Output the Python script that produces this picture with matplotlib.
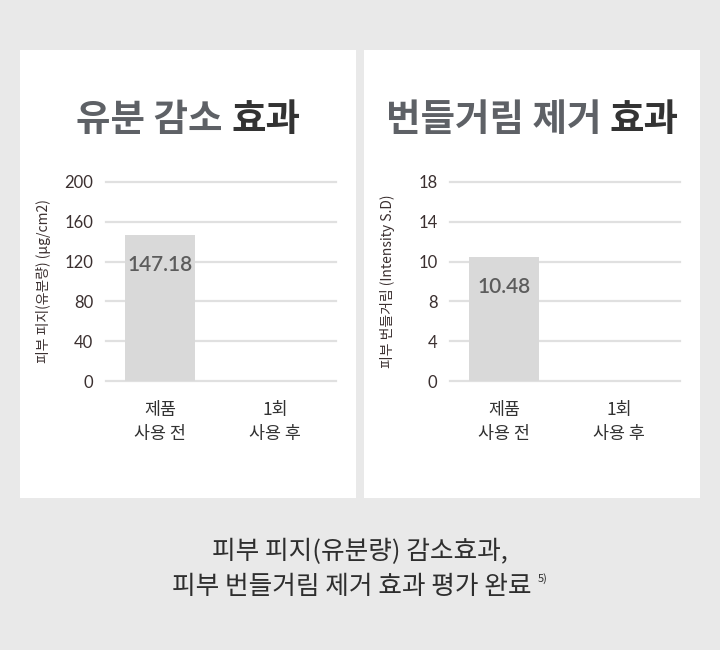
import matplotlib
matplotlib.use("Agg")
import matplotlib.pyplot as plt
import numpy as np
from matplotlib.patches import Rectangle
from matplotlib.transforms import blended_transform_factory

plt.rcParams['font.family'] = ['Noto Sans CJK KR', 'DejaVu Sans']

# data
categories = ["제품\n사용 전", "1회\n사용 후"]
sebum_values = [147.18, 66.0]        # second bar is hidden in the reference
sebum_labels = ["147.18", ""]
shine_values = [10.48, 6.0]
shine_labels = ["10.48", ""]
sebum_ticks = [0, 40, 80, 120, 160, 200]
shine_ticks = [0, 4, 8, 10, 14, 18]
shine_tick_pos = [0, 4, 8, 12, 16, 20]   # tick labels 0,4,8,10,14,18 sit on an even grid

W, H = 720, 650
BG = "#e9e9e9"
GRID = "#e0e0e0"
BAR = "#d9d9d9"

fig = plt.figure(figsize=(W / 100, H / 100), dpi=100, facecolor=BG)


def fx(px):
    return px / W


def fy(py):
    return 1 - py / H


# white panels
for x0 in (20, 364):
    fig.patches.append(Rectangle((fx(x0), fy(498)), fx(336), 448 / H,
                                 transform=fig.transFigure, facecolor="white",
                                 edgecolor="none", zorder=-5))


def two_tone_title(cx, cy, part1, part2, size):
    r = fig.canvas.get_renderer()
    t1 = fig.text(0, 0, part1, fontsize=size, fontweight="bold", color="#5e6166")
    t2 = fig.text(0, 0, part2, fontsize=size, fontweight="bold", color="#333333")
    w1 = t1.get_window_extent(r).width
    w2 = t2.get_window_extent(r).width
    left = cx - (w1 + w2) / 2
    t1.set_position((fx(left), fy(cy)))
    t2.set_position((fx(left + w1), fy(cy)))
    t1.set_va("center")
    t2.set_va("center")


def panel(x_off, values, labels, ticks, tick_pos, ymax, ylabel, title1, title2):
    ax = fig.add_axes([fx(106 + x_off), fy(381), fx(230), 199 / H])
    ax.set_facecolor("none")
    ax.set_xlim(-0.46, 1.5)
    ax.set_ylim(0, ymax)
    for s in ax.spines.values():
        s.set_visible(False)
    for p in tick_pos:
        ax.axhline(p, color=GRID, lw=1.6, zorder=0, clip_on=False)
    ax.set_yticks(tick_pos)
    ax.set_yticklabels([str(t) for t in ticks], fontsize=12, color="#3b3030",
                       family=["Lato", "DejaVu Sans"])
    ax.tick_params(axis="y", length=0, pad=9)
    ax.set_xticks([])

    # map values onto the (uneven) tick label grid
    heights = np.interp(values, ticks, tick_pos)
    xs = list(range(len(values)))
    colors = [BAR, "none"]
    bars = ax.bar(xs, heights, width=0.6, color=colors, zorder=2)
    for b, lab in zip(bars, labels):
        if lab:
            ax.annotate(lab, (b.get_x() + b.get_width() / 2, b.get_height()),
                        xytext=(0, -30), textcoords="offset pixels",
                        ha="center", va="center", fontsize=15, color="#5c5c5c",
                        fontweight="semibold", family=["Lato", "DejaVu Sans"], zorder=3)

    tr = blended_transform_factory(ax.transData, ax.transAxes)
    cat_x = [0, 0.98]
    for x, c in zip(cat_x, categories):
        ax.text(x, -0.1, c, transform=tr, ha="center", va="top", fontsize=12.5,
                color="#333333", linespacing=1.45)

    ax.set_ylabel(ylabel, fontsize=10, color="#3b3030")
    ax.yaxis.set_label_coords(-(106 - 51) / 230, 0.5)

    two_tone_title(188 + x_off, 119, title1, title2, 27)
    return ax


panel(0, sebum_values, sebum_labels, sebum_ticks, sebum_ticks, 200,
      "피부 피지(유분량) (μg/cm2)", "유분 감소 ", "효과")
panel(344, shine_values, shine_labels, shine_ticks, shine_tick_pos, 20,
      "피부 번들거림 (Intensity S.D)", "번들거림 제거 ", "효과")

# caption
fig.text(0.5, fy(552), "피부 피지(유분량) 감소효과,", ha="center", va="center",
         fontsize=18.5, color="#2e2e2e")
r = fig.canvas.get_renderer()
line2 = fig.text(0, fy(587), "피부 번들거림 제거 효과 평가 완료", va="center",
                 fontsize=18.5, color="#2e2e2e")
sup = fig.text(0, fy(579), "5)", va="center", fontsize=8, color="#2e2e2e")
w_line = line2.get_window_extent(r).width
w_sup = sup.get_window_extent(r).width
start = 360 - (w_line + 6 + w_sup) / 2
line2.set_x(fx(start))
sup.set_x(fx(start + w_line + 6))

fig.savefig("out.png", dpi=100, facecolor=BG)
